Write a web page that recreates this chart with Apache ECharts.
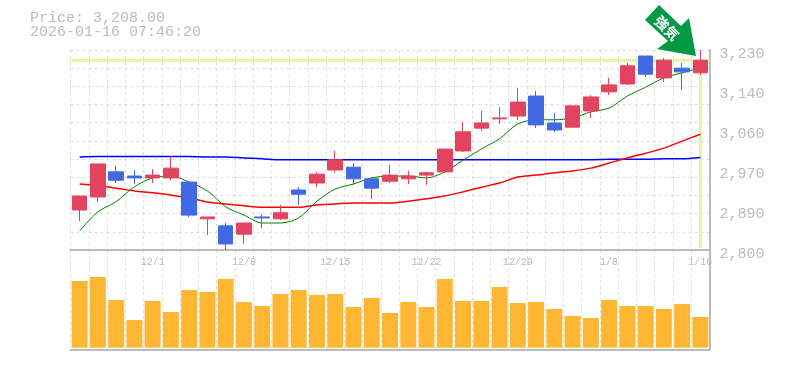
<!DOCTYPE html>
<html>
<head>
<meta charset="utf-8">
<style>
  html, body { margin: 0; padding: 0; background: #fff; }
  #chart { width: 785px; height: 370px; }
</style>
<script src="https://cdn.jsdelivr.net/npm/echarts@6/dist/echarts.min.js"></script>
</head>
<body>
<div id="chart"></div>
<script>
var dates = ["11/25","11/26","11/27","11/28","12/1","12/2","12/3","12/4","12/5","12/8","12/9","12/10","12/11","12/12","12/15","12/16","12/17","12/18","12/19","12/22","12/23","12/24","12/25","12/26","12/29","12/30","1/5","1/6","1/7","1/8","1/9","1/13","1/14","1/15","1/16"];
var dateTicks = ["12/1","12/8","12/15","12/22","12/29","1/8","1/16"];
var priceTicks = ["2,800","2,890","2,970","3,060","3,140","3,230"];

// open, close, low, high
var candles = [
  [2886,2916,2862,2916],[2914,2985,2903,2985],[2968,2950,2944,2981],[2959,2955,2942,2972],[2955,2961,2944,2974],
  [2955,2976,2950,3002],[2946,2875,2871,2946],[2867,2871,2832,2871],[2852,2813,2800,2858],[2834,2858,2813,2858],
  [2871,2869,2847,2877],[2867,2880,2864,2897],[2929,2920,2897,2935],[2944,2963,2935,2968],[2972,2994,2966,3013],
  [2978,2953,2940,2987],[2953,2933,2910,2957],[2948,2961,2944,2983],[2953,2959,2942,2970],[2961,2966,2940,2968],
  [2968,3017,2968,3017],[3013,3054,3011,3075],[3062,3073,3056,3099],[3082,3084,3071,3107],[3088,3118,3079,3148],
  [3131,3069,3062,3142],[3073,3058,3054,3095],[3064,3110,3064,3110],[3099,3129,3084,3133],[3140,3155,3133,3170],
  [3157,3196,3155,3202],[3217,3178,3172,3217],[3170,3208,3161,3213],[3191,3183,3144,3202],[3181,3208,3176,3230]
];
var maShort = [2841,2882,2904,2936,2955,2959,2946,2927,2893,2875,2858,2858,2869,2905,2931,2942,2955,2959,2959,2955,2968,2993,3017,3039,3071,3080,3080,3084,3097,3105,3131,3150,3170,3181,3191];
var maMid = [2942,2938,2933,2927,2923,2918,2912,2903,2899,2895,2892,2892,2892,2897,2899,2901,2901,2901,2905,2910,2916,2925,2935,2944,2957,2961,2966,2970,2976,2987,2998,3008,3019,3034,3049];
var maLong = [3000,3001,3001,3001,3001,3001,3001,3000,3000,2998,2996,2994,2994,2994,2994,2994,2994,2994,2994,2994,2994,2994,2994,2994,2994,2994,2994,2994,2994,2995,2995,2995,2996,2996,2999];
var volumes = [200,212,143,83,140,107,173,167,206,137,125,161,173,158,161,122,149,104,137,122,206,140,140,182,134,137,116,95,89,143,125,125,116,131,92];

var lastPrice = 3208;
var lastDate = dates[dates.length - 1];

var gridLine = { show: true, interval: 0, lineStyle: { color: "#ddd", type: [3, 3], width: 1 } };
var edgeLine = { show: true, onZero: false, lineStyle: { color: "#bbb", width: 2 } };

var myChart = echarts.init(document.getElementById("chart"));
var option = {
  animation: false,
  backgroundColor: "#fff",
  title: {
    left: 30,
    top: 11,
    padding: 0,
    text: "Price: 3,208.00\n2026-01-16 07:46:20",
    textStyle: { fontFamily: "Liberation Mono", fontSize: 15, fontWeight: "normal", color: "#bbb", lineHeight: 14 }
  },
  grid: [
    { left: 70.5, width: 639, top: 50, height: 200 },
    { left: 70.5, width: 639, top: 250, height: 100 }
  ],
  xAxis: [
    {
      type: "category", gridIndex: 0, data: dates, position: "bottom",
      axisLine: edgeLine, axisTick: { show: false }, splitLine: gridLine,
      axisLabel: {
        interval: 0, margin: 7, hideOverlap: false,
        fontFamily: "Liberation Mono", fontSize: 10, color: "#bbb",
        formatter: function (value) { return dateTicks.indexOf(value) >= 0 ? value : ""; }
      }
    },
    {
      type: "category", gridIndex: 1, data: dates, position: "bottom",
      axisLine: edgeLine, axisTick: { show: false }, axisLabel: { show: false }, splitLine: gridLine
    }
  ],
  yAxis: [
    // price scale the marks are drawn on
    { type: "value", gridIndex: 0, min: 2800, max: 3230, show: false, splitLine: { show: false } },
    // horizontal dashes, they don't line up with the labels
    {
      type: "value", gridIndex: 0, min: 0, max: 11, interval: 1,
      axisLine: { show: false }, axisTick: { show: false }, axisLabel: { show: false },
      splitLine: { show: true, lineStyle: { color: "#ddd", type: [3, 3], width: 1 } }
    },
    // right side labels, sit a little under their tick
    {
      type: "value", gridIndex: 0, min: 0, max: 5, interval: 1, position: "right",
      axisLine: { show: true, lineStyle: { color: "#bbb", width: 2 } }, axisTick: { show: false }, splitLine: { show: false },
      axisLabel: {
        margin: 10, fontFamily: "Liberation Mono", fontSize: 15, color: "#bbb", verticalAlign: "top", lineHeight: 8,
        formatter: function (value) { return priceTicks[value]; }
      }
    },
    {
      type: "value", gridIndex: 1, min: -7, max: 293, position: "right",
      axisLine: { show: true, lineStyle: { color: "#bbb", width: 2 } }, axisTick: { show: false },
      axisLabel: { show: false }, splitLine: { show: false }
    }
  ],
  series: [
    {
      name: "MA long", type: "line", xAxisIndex: 0, yAxisIndex: 0, data: maLong, z: 2, smooth: 0.3,
      symbol: "none", lineStyle: { color: "#0000ff", width: 1.5 }
    },
    {
      name: "MA mid", type: "line", xAxisIndex: 0, yAxisIndex: 0, data: maMid, z: 2, smooth: 0.3,
      symbol: "none", lineStyle: { color: "#ff0000", width: 1.5 }
    },
    {
      name: "MA short", type: "line", xAxisIndex: 0, yAxisIndex: 0, data: maShort, z: 2, smooth: 0.3,
      symbol: "none", lineStyle: { color: "#008000", width: 1 }
    },
    {
      name: "Price", type: "candlestick", xAxisIndex: 0, yAxisIndex: 0, data: candles, z: 3, barWidth: 15,
      itemStyle: { color: "#e2435f", color0: "#4169e1", borderColor: "#e2435f", borderColor0: "#4169e1", borderWidth: 1 },
      markLine: {
        silent: true, symbol: "none", z: 1, label: { show: false },
        lineStyle: { color: "#e4f5a6", width: 3, type: "solid" },
        data: [
          { yAxis: lastPrice },
          [{ coord: [lastDate, lastPrice] }, { coord: [lastDate, 2804] }]
        ]
      }
    },
    {
      name: "Volume", type: "bar", xAxisIndex: 1, yAxisIndex: 3, data: volumes, barWidth: 16,
      itemStyle: { color: "#ffb733" }
    }
  ],
  graphic: [
    {
      type: "polygon", z: 100,
      shape: { points: [[659,5],[645,20],[668,41],[657,49],[696,56],[689,18],[681,26]] },
      style: { fill: "#009944" }
    },
    {
      type: "text", z: 101, x: 667, y: 28, rotation: -Math.PI / 4,
      style: { text: "強気", fill: "#fff", font: "bold 14px 'Noto Sans CJK JP'", align: "center", verticalAlign: "middle" }
    }
  ]
};
myChart.setOption(option);
</script>
</body>
</html>
